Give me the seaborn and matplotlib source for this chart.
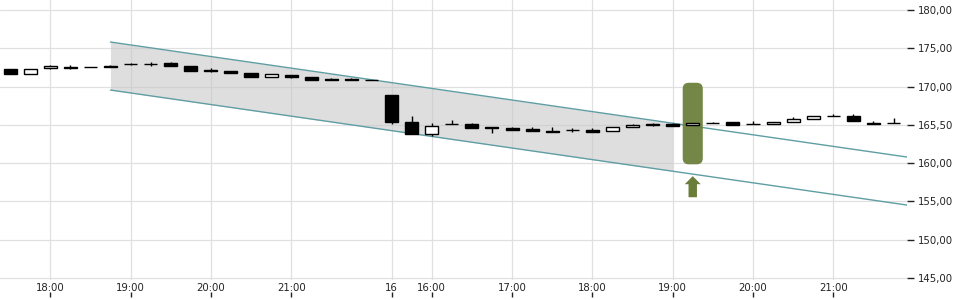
import numpy as np
import pandas as pd
import matplotlib
matplotlib.use("Agg")
import matplotlib.pyplot as plt
import seaborn as sns
from matplotlib.patches import FancyBboxPatch, FancyArrow

# ---- data -------------------------------------------------------------
opens = [172.30, 171.70, 172.40, 172.58, 172.55, 172.67, 172.93, 172.93, 173.10, 172.70,
         172.20, 172.05, 171.80, 171.20, 171.54, 171.28, 170.95, 171.00, 170.88, 168.95,
         165.40, 163.85, 165.05, 165.05, 164.78, 164.65, 164.50, 164.26, 164.34, 164.39,
         164.20, 164.75, 165.04, 165.13, 165.00, 165.25, 165.34, 165.13, 165.08, 165.34,
         165.78, 166.12, 166.20, 165.30, 165.25]
highs = [172.30, 172.30, 172.80, 172.85, 172.58, 172.84, 173.06, 173.20, 173.25, 172.70,
         172.40, 172.05, 171.80, 171.67, 171.54, 171.28, 171.06, 171.15, 170.90, 168.95,
         166.20, 165.25, 165.70, 165.20, 164.78, 164.70, 164.70, 164.78, 164.56, 164.56,
         164.73, 165.15, 165.20, 165.20, 165.25, 165.40, 165.34, 165.47, 165.43, 166.04,
         166.12, 166.43, 166.38, 165.47, 165.90]
lows = [171.70, 171.70, 172.25, 172.36, 172.52, 172.50, 172.78, 172.75, 172.67, 172.10,
        171.97, 171.72, 171.20, 171.20, 171.10, 170.80, 170.87, 170.80, 170.85, 165.10,
        163.80, 163.60, 165.05, 164.60, 163.90, 164.35, 164.20, 164.04, 164.13, 164.13,
        164.20, 164.75, 164.90, 164.87, 165.00, 165.20, 165.00, 165.13, 165.08, 165.34,
        165.78, 166.12, 165.52, 165.08, 165.25]
closes = [171.70, 172.30, 172.65, 172.38, 172.55, 172.50, 172.93, 172.93, 172.67, 172.10,
          172.03, 171.72, 171.20, 171.67, 171.20, 170.80, 170.87, 170.80, 170.88, 165.35,
          163.80, 164.90, 165.05, 164.60, 164.56, 164.35, 164.20, 164.04, 164.34, 164.13,
          164.73, 165.00, 165.04, 164.87, 165.25, 165.25, 165.00, 165.13, 165.43, 165.78,
          166.12, 166.12, 165.52, 165.08, 165.25]

tick_pos = [2, 6, 10, 14, 19, 21, 25, 29, 33, 37, 41]
tick_labels = ["18:00", "19:00", "20:00", "21:00", "16", "16:00",
               "17:00", "18:00", "19:00", "20:00", "21:00"]

y_ticks = [145, 150, 155, 160, 165, 170, 175, 180]
y_tick_labels = ["145,00", "150,00", "155,00", "160,00", "165,50",
                 "170,00", "175,00", "180,00"]

channel_x = [5.0, 44.67]
channel_upper = [175.82, 160.80]
channel_lower = [169.55, 154.53]
band_end = 33.0

highlight_x = 34
highlight_low, highlight_high = 159.85, 170.50
arrow_base, arrow_tip = 155.55, 158.30

# ---- style ------------------------------------------------------------
sns.set_style("whitegrid", {"grid.color": "#e0e0e0", "axes.edgecolor": "white"})
plt.rcParams['font.family'] = ['DejaVu Sans']

fig = plt.figure(figsize=(9.6, 3.0), dpi=100)
ax = fig.add_axes([0.0, 20 / 300, 907 / 960, 280 / 300])
ax.set_axisbelow(True)
ax.grid(True, color="#e0e0e0", lw=0.9)

teal = "#5f9ea3"
green = "#6a7e39"

# channel band
bx = np.linspace(channel_x[0], band_end, 50)
bu = np.interp(bx, channel_x, channel_upper)
bl = np.interp(bx, channel_x, channel_lower)
ax.fill_between(bx, bl, bu, color="#c8c8c8", alpha=0.6, lw=0, zorder=1)

df_ch = pd.DataFrame({"x": channel_x * 2,
                      "y": channel_upper + channel_lower,
                      "line": ["upper", "upper", "lower", "lower"]})
sns.lineplot(data=df_ch, x="x", y="y", units="line", estimator=None,
             color=teal, lw=1, ax=ax, zorder=2)

# highlight box
box = FancyBboxPatch((highlight_x - 0.5, highlight_low), 1.0,
                     highlight_high - highlight_low,
                     boxstyle="round,pad=0,rounding_size=0.3",
                     mutation_aspect=2.6, fc=green, ec="none",
                     alpha=0.93, zorder=2.5)
ax.add_patch(box)

# arrow
arr = FancyArrow(highlight_x, arrow_base, 0, arrow_tip - arrow_base,
                 width=0.42, head_width=0.8, head_length=1.05,
                 length_includes_head=True, fc=green, ec="none", zorder=2.5)
ax.add_patch(arr)

# candles
idx = np.arange(len(opens))
o = np.array(opens); c = np.array(closes)
h = np.array(highs); l = np.array(lows)
ax.vlines(idx, l, h, color="black", lw=1, zorder=3)
bottoms = np.minimum(o, c)
heights = np.maximum(np.abs(c - o), 0.015)
fc = ["black" if cc < oo else "white" for oo, cc in zip(o, c)]
ax.bar(idx, heights, bottom=bottoms, width=0.65, color=fc,
       edgecolor="black", linewidth=1, zorder=4)

# axes
ax.set_xlim(-0.5, 44.67)
ax.set_ylim(144.74, 181.31)
ax.set_xticks(tick_pos)
ax.set_xticklabels(tick_labels)
ax.set_yticks(y_ticks)
ax.set_yticklabels(y_tick_labels)
ax.yaxis.tick_right()
ax.tick_params(axis="x", length=0, pad=2.5, labelsize=7.3, colors="#222222")
ax.tick_params(axis="y", length=5, width=1, pad=3, labelsize=7.3,
               colors="#222222", right=True, left=False)
for s in ax.spines.values():
    s.set_visible(False)
ax.set_xlabel("")
ax.set_ylabel("")

sec = ax.secondary_xaxis(-17 / 280)
sec.set_xticks(tick_pos)
sec.tick_params(axis="x", direction="in", length=3.5, width=1,
                color="#222222", labelbottom=False)
sec.spines["bottom"].set_visible(False)

fig.savefig("out.png", dpi=100)
